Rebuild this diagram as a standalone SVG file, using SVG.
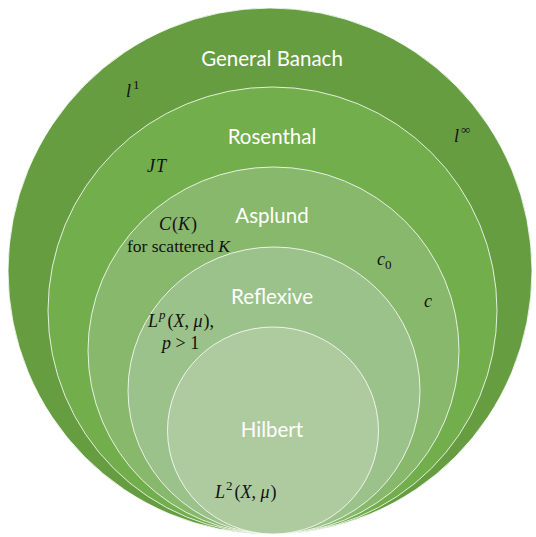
<svg xmlns="http://www.w3.org/2000/svg" width="536" height="537" viewBox="0 0 536 537">
<style>
.ring{stroke:#ffffff;stroke-width:0.9;stroke-opacity:0.9}
.lbl{font-family:Lato,"Open Sans","Liberation Sans",sans-serif;font-size:20.5px;fill:#ffffff;text-anchor:middle}
.m{font-family:"Liberation Serif","DejaVu Serif",serif;font-size:18px;fill:#111111;font-style:italic}
.r{font-style:normal}
.sup{font-size:13px}
</style>
<rect width="536" height="537" fill="#ffffff"/>
<g id="general-banach">
<ellipse class="ring" cx="270" cy="271" rx="262" ry="263" fill="#669D41" stroke="none"/>
<text class="lbl" x="272" y="66">General Banach</text>
</g>
<g id="rosenthal">
<ellipse class="ring" cx="272.5" cy="310.5" rx="224.5" ry="223.5" fill="#72AE4C"/>
<text class="lbl" x="272" y="144">Rosenthal</text>
</g>
<g id="asplund">
<ellipse class="ring" cx="273.5" cy="350.5" rx="185.5" ry="183.5" fill="#87B86B"/>
<text class="lbl" x="272" y="223">Asplund</text>
</g>
<g id="reflexive">
<ellipse class="ring" cx="274" cy="390.5" rx="146" ry="143.5" fill="#9BC28A"/>
<text class="lbl" x="272" y="304">Reflexive</text>
</g>
<g id="hilbert">
<ellipse class="ring" cx="273" cy="430.5" rx="105.5" ry="103.5" fill="#AECBA0"/>
<text class="lbl" x="272" y="437">Hilbert</text>
</g>
<g id="examples">
<text class="m" x="126" y="97">l<tspan class="r sup" dx="2" dy="-8">1</tspan></text>
<text class="m" x="454" y="142">l<tspan class="r sup" dx="2" dy="-8">∞</tspan></text>
<text class="m" x="147" y="172" letter-spacing="1">JT</text>
<text class="m" x="159" y="230">C<tspan class="r" dx="1">(</tspan>K<tspan class="r" dx="1">)</tspan></text>
<text class="m" x="127" y="251.5" style="font-size:17.5px"><tspan class="r">for scattered </tspan>K</text>
<text class="m" x="377" y="265">c<tspan class="r sup" dy="4">0</tspan></text>
<text class="m" x="424" y="307">c</text>
<text class="m" x="148" y="327">L<tspan class="sup" dx="1" dy="-8">p</tspan><tspan class="r" dx="2" dy="8">(</tspan>X<tspan class="r">,  </tspan>μ<tspan class="r" dx="1">),</tspan></text>
<text class="m" x="162" y="348.5">p<tspan class="r"> &gt; 1</tspan></text>
<text class="m" x="215" y="498">L<tspan class="r sup" dx="1" dy="-8">2</tspan><tspan class="r" dx="2" dy="8">(</tspan>X<tspan class="r">,  </tspan>μ<tspan class="r" dx="1">)</tspan></text>
</g>
</svg>
